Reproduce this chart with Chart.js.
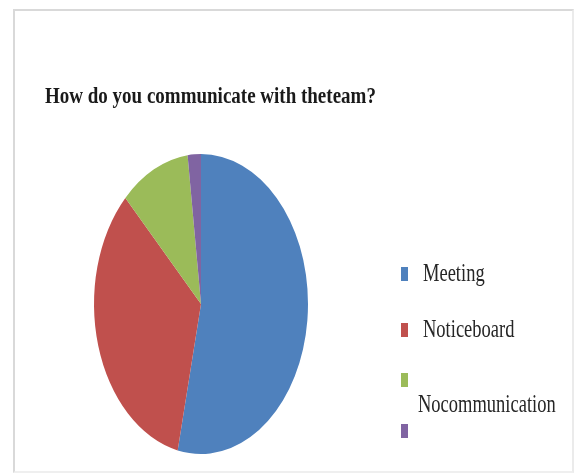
<!DOCTYPE html>
<html>
<head>
<meta charset="utf-8">
<script src="https://cdn.jsdelivr.net/npm/chart.js@4/dist/chart.umd.min.js"></script>
<style>
  html, body { margin: 0; padding: 0; background: #fff; }
  #wrap { position: relative; width: 577px; height: 474px; overflow: hidden; }
  #frame { position: absolute; left: 13px; top: 9px; width: 561px; height: 464px;
           border: 2px solid #d9d9d9; border-right-color: #ebebeb; border-bottom-color: #efefef;
           box-sizing: border-box; }
  #pie { position: absolute; left: 0; top: 0; }
  .txt { position: absolute; white-space: nowrap; line-height: 1;
         font-family: "Liberation Serif", "Times New Roman", serif; color: #262626;
         transform-origin: left top; }
  #title { left: 45px; top: 83px; font-size: 19px; font-weight: bold; color: #1a1a1a;
           transform: scale(1, 1.25); }
  .box { position: absolute; width: 7px; height: 14px; }
  .lbl { font-size: 18.5px; transform: scale(1, 1.38); }
</style>
</head>
<body>
<div id="wrap">
  <div id="frame"></div>
  <canvas id="pie" width="577" height="474"></canvas>
  <div id="title" class="txt">How do you communicate with theteam?</div>
  <div id="legend"></div>
</div>
<script>
// Survey answers and their shares (percent)
const titleText = 'How do you communicate with theteam?';
const categories = ['Meeting', 'Noticeboard', 'Nocommunication', ''];
const shares = [53.5, 34, 10.5, 2];
const colors = ['#4F81BD', '#C0504D', '#9BBB59', '#8064A2'];

document.getElementById('title').textContent = titleText;

// The pie is drawn stretched vertically into an ellipse
const stretchY = 150 / 107;
const ellipsePlugin = {
  id: 'ellipse',
  beforeDatasetsDraw(chart) {
    const arc = chart.getDatasetMeta(0).data[0];
    const ctx = chart.ctx;
    ctx.save();
    ctx.translate(arc.x, arc.y);
    ctx.scale(1, stretchY);
    ctx.translate(-arc.x, -arc.y);
  },
  afterDatasetsDraw(chart) {
    chart.ctx.restore();
  }
};

new Chart(document.getElementById('pie'), {
  type: 'pie',
  data: {
    labels: categories,
    datasets: [{
      data: shares,
      backgroundColor: colors,
      borderWidth: 0
    }]
  },
  options: {
    responsive: false,
    animation: false,
    radius: 107,
    layout: { padding: { left: 94, right: 269, top: 197, bottom: 63 } },
    plugins: {
      legend: { display: false },
      tooltip: { enabled: false },
      title: { display: false }
    }
  },
  plugins: [ellipsePlugin]
});

// Legend: swatch rows, with the third label set on its own line below its swatch
const legend = document.getElementById('legend');
const boxTops = [267, 323, 373, 424];
const labelPos = [[423, 260], [423, 316], [418, 391], [423, 417]];
categories.forEach((name, i) => {
  const b = document.createElement('div');
  b.className = 'box';
  b.style.left = '401px';
  b.style.top = boxTops[i] + 'px';
  b.style.background = colors[i];
  legend.appendChild(b);
  if (name) {
    const t = document.createElement('div');
    t.className = 'txt lbl';
    t.style.left = labelPos[i][0] + 'px';
    t.style.top = labelPos[i][1] + 'px';
    t.textContent = name;
    legend.appendChild(t);
  }
});
</script>
</body>
</html>
